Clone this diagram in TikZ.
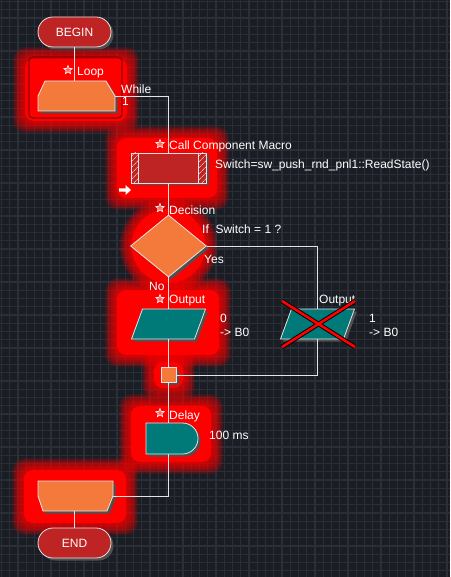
\documentclass[tikz,border=0pt]{standalone}
\usepackage{fontspec}
\setmainfont{Liberation Sans}
\usetikzlibrary{shapes.geometric,shapes.misc,shadows,patterns.meta,calc}

\definecolor{fcbg}{RGB}{26,29,36}
\definecolor{fcgrid}{RGB}{42,46,55}
\definecolor{fcred}{RGB}{190,36,36}
\definecolor{fcorange}{RGB}{244,122,60}
\definecolor{fcteal}{RGB}{0,122,120}
\definecolor{fcshadow}{RGB}{80,80,80}
\definecolor{fcline}{RGB}{228,228,228}
\definecolor{glowred}{RGB}{255,0,0}

\tikzset{
  iconline/.style={draw=fcline, line width=0.8pt,
    drop shadow={shadow xshift=2.5pt, shadow yshift=-2.5pt, fill=fcshadow, opacity=1}},
  icon/.style={iconline, inner sep=0pt},
  slot/.style={inner sep=0pt, outer sep=0pt},
  termbox/.style={icon, rounded rectangle, fill=fcred, minimum width=73pt, minimum height=30pt,
    text=white, font=\fontsize{12}{14}\selectfont},
  conn/.style={fcline, line width=0.8pt},
  lbl/.style={text=white, anchor=west, inner sep=0pt, font=\fontsize{12}{14}\selectfont},
  starmark/.style={star, star points=5, star point ratio=2.3, draw=white, fill=glowred!60!white,
    minimum size=9pt, inner sep=0pt, line width=0.6pt},
}

% soft red halo round a selected icon
\newcommand\glowrect[2]{%
  \foreach \g in {1,...,12}{\fill[glowred, fill opacity=0.12, rounded corners=12pt] ($#1+(-\g,-\g)$) rectangle ($#2+(\g,\g)$);}
  \fill[glowred, rounded corners=9pt] #1 rectangle #2;}

\begin{document}
\begin{tikzpicture}[x=1pt,y=-1pt]
% background and grid
\fill[fcbg] (0,0) rectangle (450,577);
\useasboundingbox (0,0) rectangle (450,577);
\foreach \i in {0,...,54} {\draw[fcgrid, line width=1.4pt] (1.5+8.25*\i,0) -- (1.5+8.25*\i,577);}
\foreach \i in {0,...,69} {\draw[fcgrid, line width=1.4pt] (0,1.5+8.25*\i) -- (450,1.5+8.25*\i);}

% halos
\glowrect{(25,59)}{(127,121)}
\glowrect{(117,138)}{(217,198)}
\foreach \g in {1,...,12}{\fill[glowred, fill opacity=0.12] (168.5,246) circle ({37+\g});}
\fill[glowred] (168.5,246) circle (37);
\glowrect{(117,290)}{(219,355)}
\glowrect{(154,362)}{(183,388)}
\glowrect{(131,406)}{(211,462)}
\glowrect{(24,470)}{(126,523)}
\draw[red!55!black, line width=1.3pt, rounded corners=4pt] (29,57) rectangle (122,118);

% icons
\node[termbox] (begin) at (74.5,32) {BEGIN};
\node[slot, minimum width=77pt, minimum height=30pt] (loop) at (76.5,96) {};
\draw[iconline, fill=fcorange] ($(loop.north west)+(7,0)$) -- ($(loop.north east)+(-9,0)$)
  -- (loop.east) -- (loop.south east) -- (loop.south west) -- (loop.west) -- cycle;
\node[icon, rectangle, fill=fcred, minimum width=75pt, minimum height=30pt] (macro) at (168.5,168) {};
\fill[fcred!80!black, pattern={Lines[angle=45,distance=4pt,line width=0.6pt]}, pattern color=white]
  ($(macro.north west)+(0.4,0.4)$) rectangle ($(macro.south west)+(8,-0.4)$);
\fill[fcred!80!black, pattern={Lines[angle=45,distance=4pt,line width=0.6pt]}, pattern color=white]
  ($(macro.north east)+(-8,0.4)$) rectangle ($(macro.south east)+(-0.4,-0.4)$);
\draw[fcline, line width=0.8pt] ($(macro.north west)+(8,0)$) -- ($(macro.south west)+(8,0)$);
\draw[fcline, line width=0.8pt] ($(macro.north east)+(-8,0)$) -- ($(macro.south east)+(-8,0)$);
\fill[white] (119,188.3) -- (125.5,188.3) -- (125.5,185) -- (131,190) -- (125.5,195) -- (125.5,191.7)
  -- (119,191.7) -- cycle;
\node[icon, diamond, fill=fcorange, minimum width=76pt, minimum height=62pt] (dec) at (168.5,246) {};
\node[slot, minimum width=74pt, minimum height=30pt] (out1) at (168.5,324) {};
\draw[iconline, fill=fcteal] ($(out1.north west)+(11,0)$) -- (out1.north east)
  -- ($(out1.south east)+(-11,0)$) -- (out1.south west) -- cycle;
\node[slot, minimum width=74pt, minimum height=30pt] (out2) at (317.5,324) {};
\draw[iconline, fill=fcteal] ($(out2.north west)+(11,0)$) -- (out2.north east)
  -- ($(out2.south east)+(-11,0)$) -- (out2.south west) -- cycle;
\node[icon, rectangle, fill=fcorange, minimum size=15pt] (junc) at (168.5,375) {};
\node[icon, rounded rectangle, rounded rectangle west arc=none, fill=fcteal,
  minimum width=52pt, minimum height=31pt] (delay) at (172,438.5) {};
\node[slot, minimum width=75pt, minimum height=30pt] (endloop) at (75.5,496) {};
\draw[iconline, fill=fcorange] (endloop.north west) -- (endloop.north east) -- (endloop.east)
  -- ($(endloop.south east)+(-6,0)$) -- ($(endloop.south west)+(5,0)$) -- (endloop.west) -- cycle;
\node[termbox] (end) at (74.5,543) {END};

% connectors
\draw[conn] (begin.south) -- (begin.south |- loop.north);
\draw[conn] (loop.east) -| (macro.north);
\draw[conn] (macro.south) -- (dec.north);
\draw[conn] (dec.east) -| (out2.north);
\draw[conn] (dec.south) -- (out1.north);
\draw[conn] (out1.south) -- (junc.north);
\draw[conn] (out2.south) |- (junc.east);
\draw[conn] (junc.south) -- (junc.south |- delay.north);
\draw[conn] (junc.south |- delay.south) |- (endloop.east);
\draw[conn] (end.north |- endloop.south) -- (end.north);

% labels
\node[starmark] (s1) at (68,70) {};
\node[lbl] (t1) at (77,73) {Loop};
\node[lbl] (t2) at (121,89) {While};
\node[lbl] (t3) at (122,101) {1};
\node[starmark] (s2) at (160,144) {};
\node[lbl] (t4) at (169,146) {Call Component Macro};
\node[lbl] (t5) at (215,165) {Switch=sw\_push\_rnd\_pnl1::ReadState()};
\node[starmark] (s3) at (160,208) {};
\node[lbl] (t6) at (169,210) {Decision};
\node[lbl] (t7) at (202,229) {If\ \ Switch = 1 ?};
\node[lbl] (t8) at (204,259) {Yes};
\node[lbl] (t9) at (149,286) {No};
\node[starmark] (s4) at (160,299) {};
\node[lbl] (t10) at (169,301) {Output};
\node[lbl] (t11) at (220,318) {0};
\node[lbl] (t12) at (220,332) {-> B0};
\node[lbl] (t13) at (319,301) {Output};
\node[lbl] (t14) at (369,318) {1};
\node[lbl] (t15) at (369,332) {-> B0};
\node[starmark] (s5) at (160,413) {};
\node[lbl] (t16) at (169,416) {Delay};
\node[lbl] (t17) at (209,435) {100 ms};

% disabled icon cross
\draw[black, line width=4.5pt] ($(out2.center)+(-35.5,-23)$) -- ($(out2.center)+(37.5,23)$);
\draw[black, line width=4.5pt] ($(out2.center)+(37.5,-23)$) -- ($(out2.center)+(-35.5,23)$);
\draw[glowred, line width=2.6pt] ($(out2.center)+(-35.5,-23)$) -- ($(out2.center)+(37.5,23)$);
\draw[glowred, line width=2.6pt] ($(out2.center)+(37.5,-23)$) -- ($(out2.center)+(-35.5,23)$);
\end{tikzpicture}
\end{document}
